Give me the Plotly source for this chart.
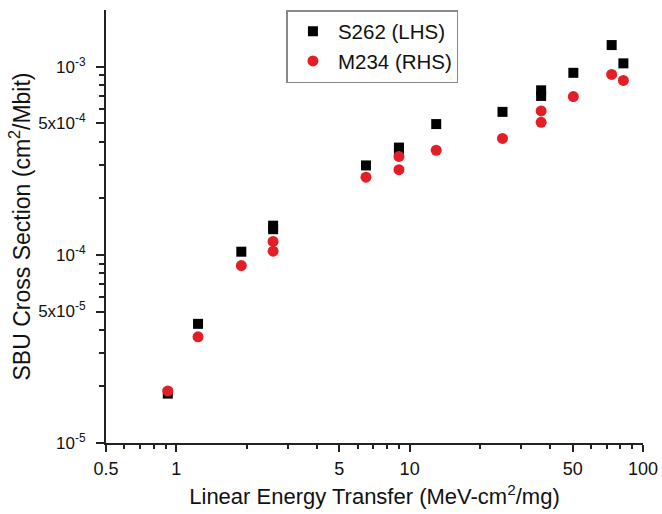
import plotly.graph_objects as go

# LET values (MeV-cm^2/mg)
let_s262 = [0.92, 1.24, 1.9, 2.6, 2.6, 6.5, 9.0, 9.0, 13.0, 25.0, 36.6, 36.6, 50.3, 73.4, 82.4]
xs_s262 = [1.83e-5, 4.3e-5, 1.04e-4, 1.43e-4, 1.37e-4, 2.99e-4, 3.72e-4, 3.62e-4,
           4.96e-4, 5.76e-4, 7.5e-4, 7.0e-4, 9.29e-4, 1.305e-3, 1.043e-3]

let_m234 = [0.92, 1.24, 1.9, 2.6, 2.6, 6.5, 9.0, 9.0, 13.0, 25.0, 36.6, 36.6, 50.3, 73.4, 82.4]
xs_m234 = [1.89e-5, 3.67e-5, 8.78e-5, 1.18e-4, 1.047e-4, 2.59e-4, 3.34e-4, 2.84e-4,
           3.60e-4, 4.16e-4, 5.83e-4, 5.07e-4, 6.95e-4, 9.11e-4, 8.46e-4]

x_tickvals = [0.5, 1, 5, 10, 50, 100]
x_ticktext = ["0.5", "1", "5", "10", "50", "100"]
x_minor = [0.6, 0.7, 0.8, 0.9, 2, 3, 4, 6, 7, 8, 9, 20, 30, 40, 60, 70, 80, 90]

y_tickvals = [1e-5, 5e-5, 1e-4, 5e-4, 1e-3]
y_ticktext = ["10<sup>-5</sup>", "5x10<sup>-5</sup>", "10<sup>-4</sup>", "5x10<sup>-4</sup>", "10<sup>-3</sup>"]
y_minor = [2e-5, 3e-5, 4e-5, 6e-5, 7e-5, 8e-5, 9e-5,
           2e-4, 3e-4, 4e-4, 6e-4, 7e-4, 8e-4, 9e-4]

FONT = "Liberation Sans, Arial, sans-serif"
AX = "#222222"
TXT = "#111111"

fig = go.Figure()
fig.add_trace(go.Scatter(
    x=let_s262, y=xs_s262, mode="markers", name="S262 (LHS)",
    marker=dict(symbol="square", size=10, color="black"),
))
fig.add_trace(go.Scatter(
    x=let_m234, y=xs_m234, mode="markers", name="M234 (RHS)",
    marker=dict(symbol="circle", size=11, color="#e41e26"),
))

fig.update_layout(
    width=662, height=514,
    margin=dict(l=106, r=19, t=10, b=71),
    paper_bgcolor="white", plot_bgcolor="white",
    font=dict(family=FONT, color=TXT),
    showlegend=True,
    legend=dict(
        x=0.336, y=1.0, xanchor="left", yanchor="top",
        bordercolor="#888888", borderwidth=1.5,
        font=dict(size=20.5, family=FONT, color=TXT),
        bgcolor="white", itemwidth=40,
        tracegroupgap=0,
    ),
)

fig.update_xaxes(
    type="log", range=[-0.30103, 2.0],
    showgrid=False, zeroline=False,
    showline=True, linecolor=AX, linewidth=2,
    ticks="outside", ticklen=7, tickwidth=1.5, tickcolor=AX,
    tickvals=x_tickvals, ticktext=x_ticktext,
    tickfont=dict(size=18, family=FONT, color=TXT),
    ticklabelstandoff=1, ticklabeloverflow="allow",
    minor=dict(tickvals=x_minor, ticks="outside", ticklen=4, tickwidth=1.5, tickcolor=AX, showgrid=False),
    title=dict(text="Linear Energy Transfer (MeV-cm<sup>2</sup>/mg)",
               font=dict(size=22, family=FONT, color=TXT), standoff=11),
    automargin=False,
)
fig.update_yaxes(
    type="log", range=[-5.0, -2.698],
    showgrid=False, zeroline=False,
    showline=True, linecolor=AX, linewidth=2,
    ticks="outside", ticklen=8, tickwidth=1.5, tickcolor=AX,
    tickvals=y_tickvals, ticktext=y_ticktext,
    tickfont=dict(size=17, family=FONT, color=TXT),
    ticklabelstandoff=7, ticklabeloverflow="allow",
    minor=dict(tickvals=y_minor, ticks="outside", ticklen=5, tickwidth=1.5, tickcolor=AX, showgrid=False),
    title=dict(text="SBU Cross Section (cm<sup>2</sup>/Mbit)",
               font=dict(size=23, family=FONT, color=TXT), standoff=1),
    automargin=False,
)

fig.write_html(
    "out.html",
    config={"displayModeBar": False},
    post_script="document.body.style.margin='0';document.body.style.overflow='hidden';",
)
